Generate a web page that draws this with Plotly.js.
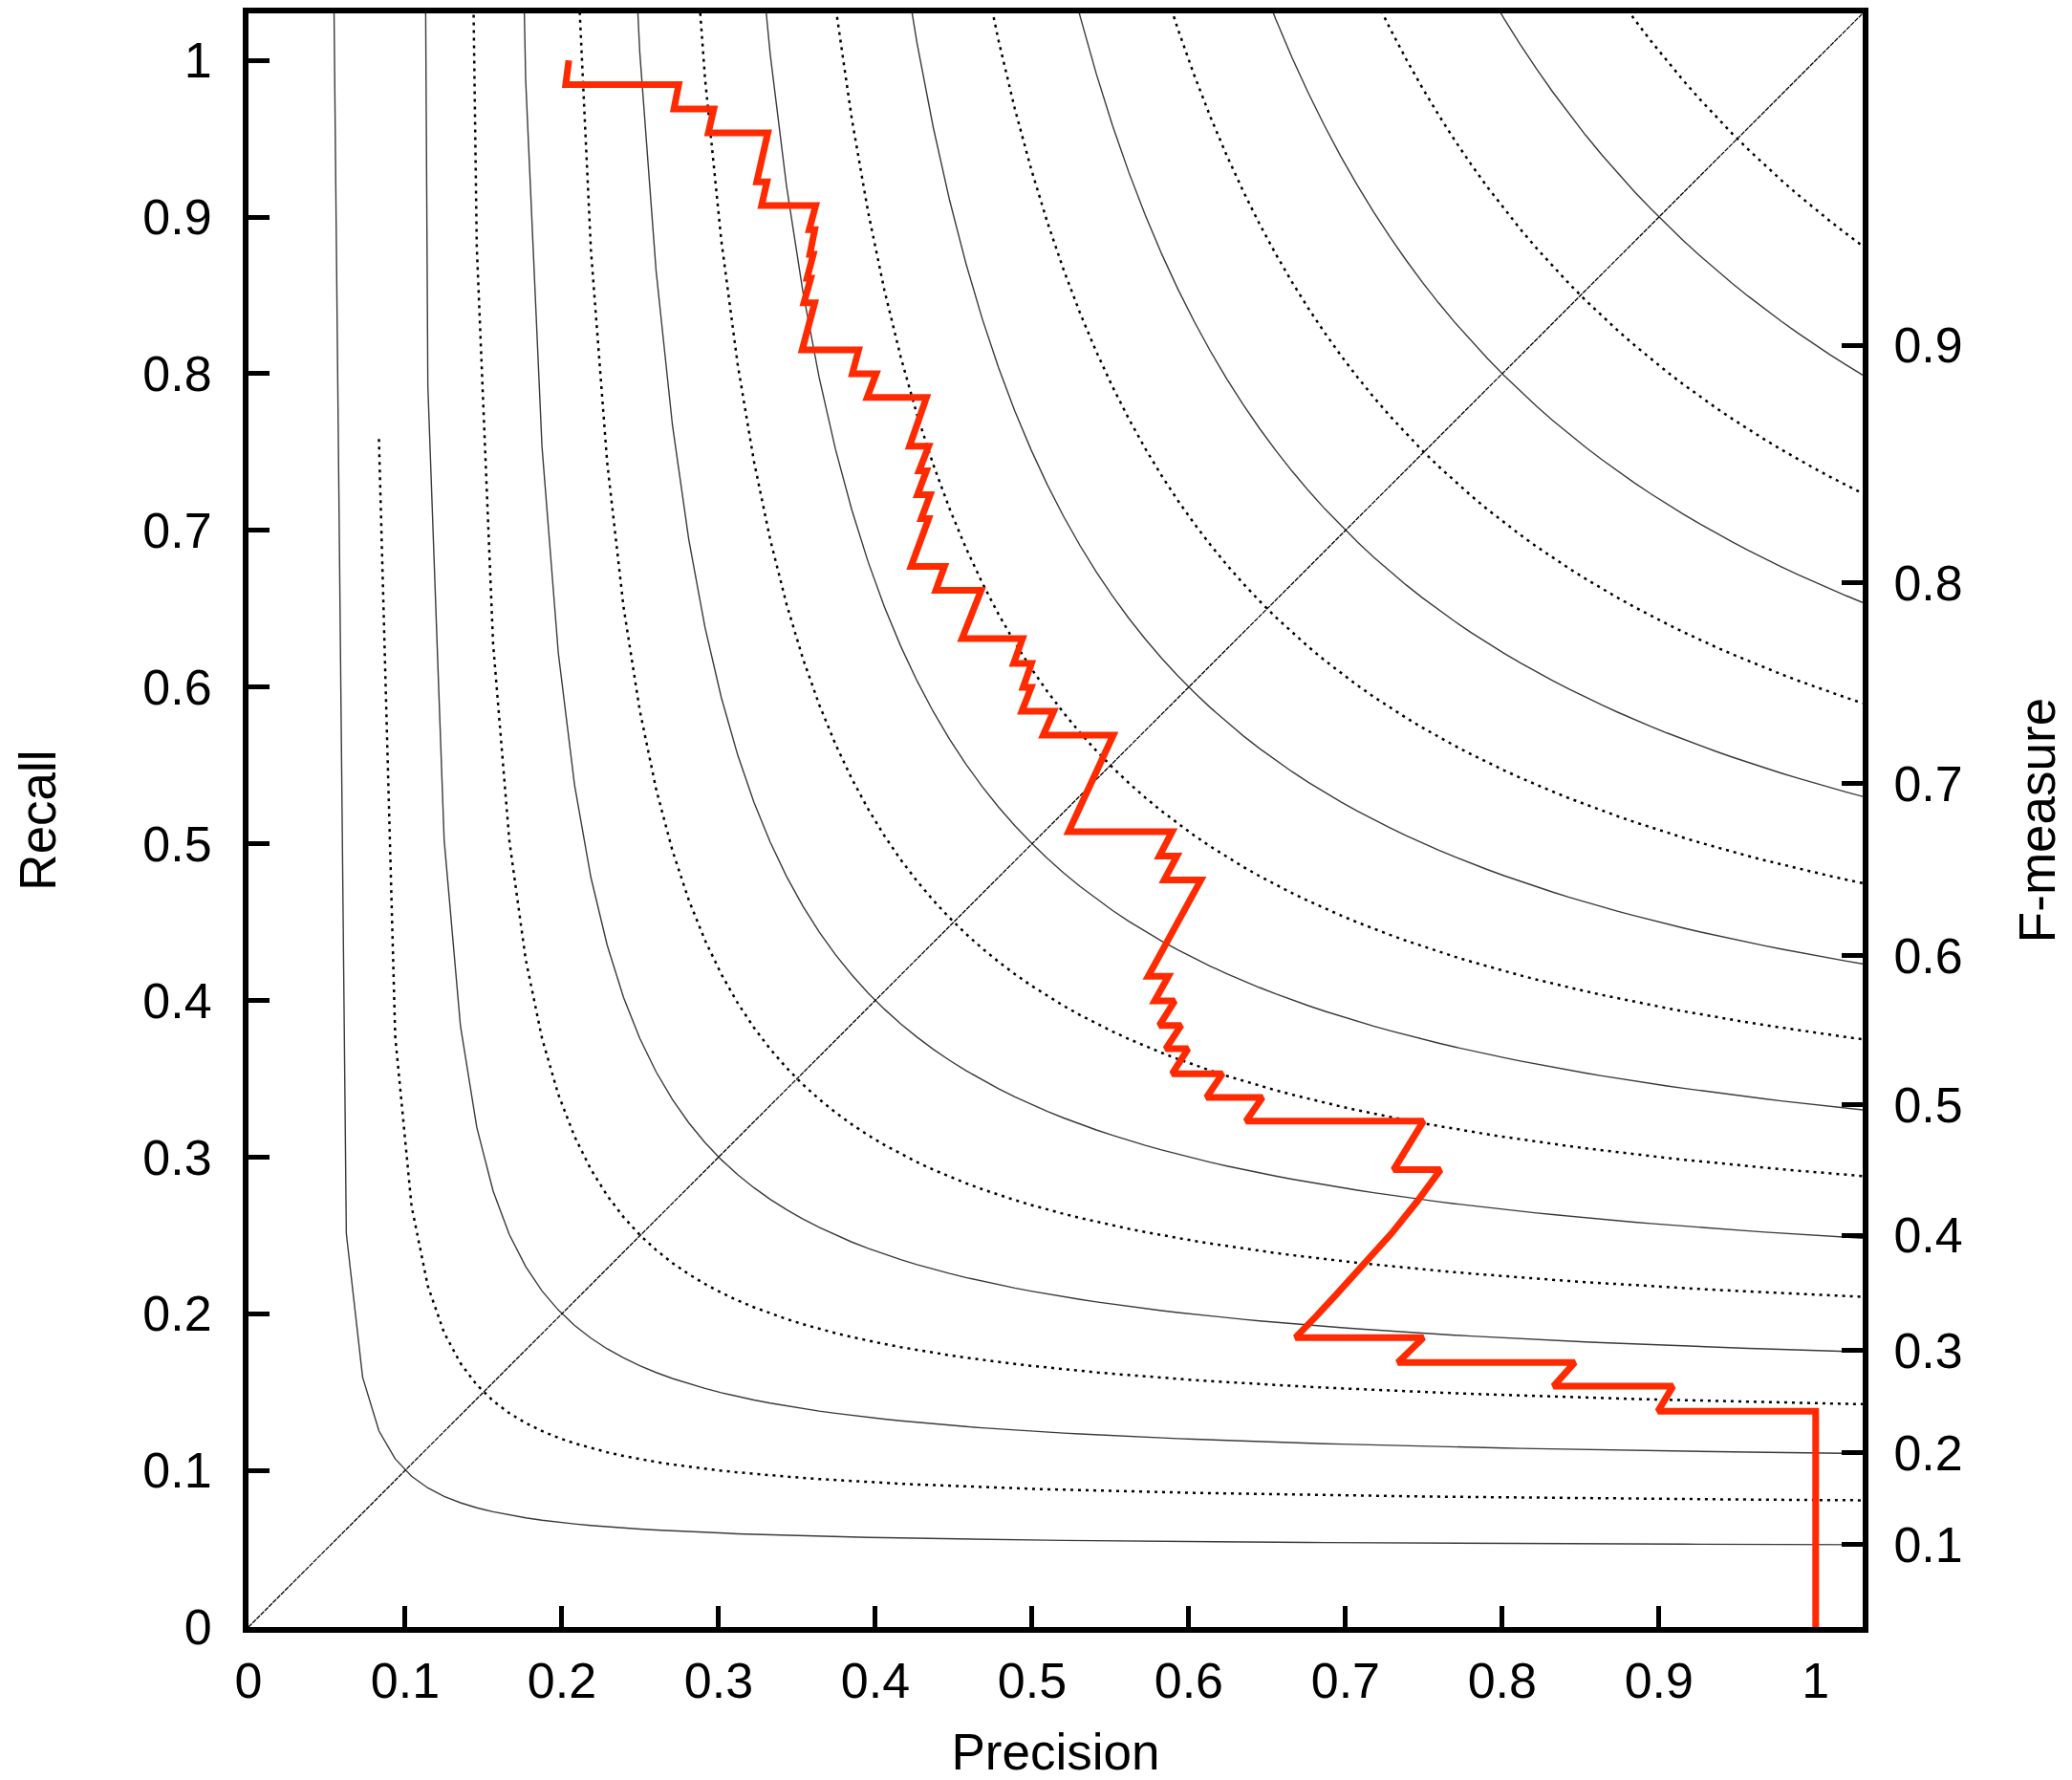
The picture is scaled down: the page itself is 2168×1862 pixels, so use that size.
<!DOCTYPE html>
<html>
<head>
<meta charset="utf-8">
<script src="https://cdn.plot.ly/plotly-3.0.1.min.js"></script>
<style>html,body{margin:0;padding:0;background:#fff;}#chart{width:2168px;height:1862px;}</style>
</head>
<body>
<div id="chart"></div>
<script>
// Precision-recall curve
const precision = [0.2044,0.2024,0.2745,0.2715,0.2969,0.2934,0.3314,0.3243,0.3308,0.3274,0.3619,0.3578,0.3613,0.3582,0.3604,0.3564,0.3588,0.3544,0.3613,0.3533,0.3893,0.3853,0.4005,0.3948,0.4326,0.4218,0.4340,0.4279,0.4326,0.4269,0.4350,0.4293,0.4340,0.4228,0.4441,0.4386,0.4675,0.4553,0.4939,0.4882,0.4996,0.4943,0.4994,0.4935,0.5138,0.5071,0.5518,0.5233,0.5894,0.5812,0.5924,0.5843,0.6077,0.5741,0.5870,0.5782,0.5910,0.5812,0.5951,0.5853,0.5995,0.5894,0.6215,0.6113,0.6470,0.6365,0.7497,0.7307,0.7606,0.7456,0.7293,0.7116,0.6926,0.6817,0.6681,0.7497,0.7334,0.8463,0.8327,0.9089,0.8994,1.0,1.0];
const recall    = [1.000,0.9845,0.9845,0.969,0.969,0.9538,0.9538,0.9224,0.9224,0.9073,0.9073,0.8919,0.8919,0.8762,0.8762,0.861,0.861,0.8453,0.8453,0.8152,0.8152,0.800,0.800,0.7848,0.7848,0.7537,0.7537,0.7380,0.7380,0.7228,0.7228,0.7075,0.7075,0.6770,0.6770,0.6618,0.6618,0.6309,0.6309,0.6150,0.6150,0.5998,0.5998,0.5846,0.5846,0.5693,0.5693,0.5077,0.5077,0.4921,0.4921,0.4768,0.4768,0.4154,0.4154,0.3996,0.3996,0.3840,0.3840,0.3691,0.3691,0.3532,0.3532,0.3380,0.3380,0.3229,0.3229,0.2919,0.2919,0.2715,0.2512,0.2309,0.2106,0.1988,0.1848,0.1848,0.1689,0.1689,0.1537,0.1537,0.1378,0.1378,0.0];

// Iso-F-measure reference curves
const fLevels = [0.1,0.15,0.2,0.25,0.3,0.35,0.4,0.45,0.5,0.55,0.6,0.65,0.7,0.75,0.8,0.85,0.9,0.95];
// F-measure ticks on the right axis
const fTickLabels = ["0.1","0.2","0.3","0.4","0.5","0.6","0.7","0.8","0.9"];
const fTickValues = [0.1,0.2,0.3,0.4,0.5,0.6,0.7,0.8,0.9];

const AXMAX = 1.03;
const NSAMP = 100;
const FONT = 'Liberation Sans, Arial, Helvetica, sans-serif';

const traces = [];
fLevels.forEach((f, i) => {
  const xs = [], ys = [];
  for (let k = 0; k < NSAMP; k++) {
    const p = k * AXMAX / (NSAMP - 1);
    const d = 2 * p - f;
    xs.push(p);
    ys.push(d > 0 ? f * p / d : null);
  }
  const solid = (i % 2 === 0);
  traces.push({
    x: xs, y: ys, type: 'scatter', mode: 'lines', hoverinfo: 'skip', showlegend: false,
    connectgaps: false,
    line: solid ? {color: '#3a3a3a', width: 1.4} : {color: '#000000', width: 2.5, dash: '3px,5px'}
  });
});

// diagonal P = R
traces.push({
  x: [0, AXMAX], y: [0, AXMAX], type: 'scatter', mode: 'lines', hoverinfo: 'skip', showlegend: false,
  line: {color: '#000000', width: 1.3, dash: '5px,1px'}
});

// PR curve
traces.push({
  x: precision, y: recall, type: 'scatter', mode: 'lines', showlegend: false,
  line: {color: '#ff2a00', width: 7}
});

// dummy trace for right axis
traces.push({x: [null], y: [null], yaxis: 'y2', type: 'scatter', mode: 'lines', showlegend: false, hoverinfo: 'skip'});

const tickFont = {family: FONT, size: 52, color: '#000'};
const titleFont = {family: FONT, size: 53, color: '#000'};

const layout = {
  width: 2168, height: 1862,
  margin: {l: 260, r: 219, t: 14, b: 160, pad: 0},
  paper_bgcolor: '#fff', plot_bgcolor: '#fff',
  showlegend: false,
  xaxis: {
    range: [0, AXMAX], tick0: 0, dtick: 0.1, showgrid: false, zeroline: false,
    showline: true, linewidth: 6, linecolor: '#000', mirror: true, layer: 'below traces',
    ticks: 'inside', ticklen: 22, tickwidth: 5, tickcolor: '#000',
    tickfont: tickFont, ticklabelstandoff: 6,
    title: {text: 'Precision', font: titleFont, standoff: 30}
  },
  yaxis: {
    range: [0, AXMAX], tick0: 0, dtick: 0.1, showgrid: false, zeroline: false,
    showline: true, linewidth: 6, linecolor: '#000',
    ticks: 'inside', ticklen: 22, tickwidth: 5, tickcolor: '#000',
    tickfont: tickFont, ticklabelstandoff: 22,
    title: {text: 'Recall', font: titleFont, standoff: 76}
  },
  yaxis2: {
    overlaying: 'y', side: 'right', range: [0, AXMAX], showgrid: false, zeroline: false,
    showline: true, linewidth: 6, linecolor: '#000',
    ticks: 'inside', ticklen: 22, tickwidth: 5, tickcolor: '#000',
    tickmode: 'array',
    tickvals: fTickValues.map(f => f / (2 - f)),
    ticktext: fTickLabels,
    tickfont: tickFont, ticklabelstandoff: 16,
    title: {text: 'F-measure', font: titleFont, standoff: 62}
  }
};

Plotly.newPlot('chart', traces, layout, {staticPlot: true, displayModeBar: false});
</script>
</body>
</html>
